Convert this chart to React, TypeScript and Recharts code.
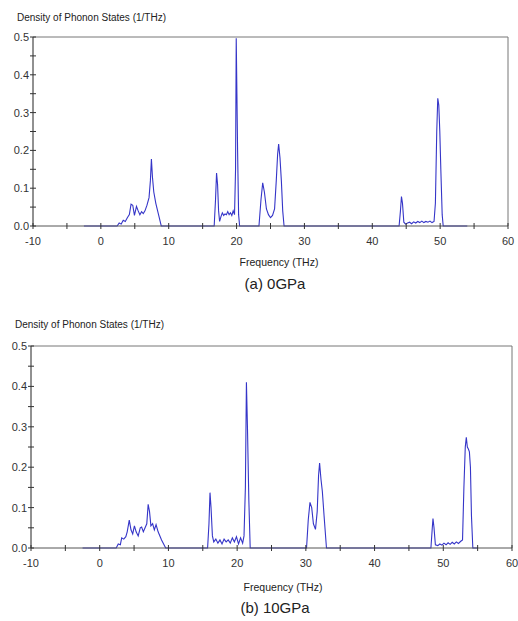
import { LineChart, Line, XAxis, YAxis, ReferenceLine } from 'recharts';

// (a) 0 GPa
const freqA = [
  -2.5, 2.4, 2.7, 3.0, 3.3, 3.6, 3.9, 4.2, 4.45, 4.7, 4.95, 5.25, 5.5, 5.75, 6.0, 6.25, 6.5, 6.8, 7.1, 7.3,
  7.45, 7.6, 7.8, 8.1, 8.5, 8.9, 16.7, 16.9, 17.05, 17.2, 17.35, 17.5, 17.7, 17.9, 18.1, 18.3, 18.5, 18.7,
  18.9, 19.1, 19.3, 19.5, 19.7, 19.85, 19.95, 20.05, 20.15, 20.3, 20.45, 23.3, 23.6, 23.85, 24.1, 24.4,
  24.7, 25.0, 25.3, 25.6, 25.85, 26.05, 26.2, 26.4, 26.6, 26.8, 27.0, 43.95, 44.15, 44.3, 44.45, 44.65,
  44.9, 45.2, 45.5, 45.8, 46.1, 46.4, 46.7, 47.0, 47.3, 47.6, 47.9, 48.2, 48.5, 48.8, 49.1, 49.3, 49.5,
  49.65, 49.8, 49.95, 50.1, 50.3, 50.45, 54,
];
const dosA = [
  0, 0, 0.008, 0.005, 0.015, 0.012, 0.022, 0.03, 0.058, 0.055, 0.028, 0.052, 0.04, 0.03, 0.038, 0.033, 0.04,
  0.055, 0.075, 0.12, 0.177, 0.13, 0.09, 0.06, 0.03, 0, 0, 0.07, 0.14, 0.11, 0.04, 0.012, 0.025, 0.035, 0.028,
  0.032, 0.03, 0.038, 0.03, 0.035, 0.028, 0.04, 0.03, 0.15, 0.497, 0.35, 0.2, 0.03, 0, 0, 0.07, 0.114, 0.09,
  0.045, 0.03, 0.022, 0.028, 0.045, 0.12, 0.19, 0.217, 0.18, 0.12, 0.04, 0, 0, 0.04, 0.078, 0.06, 0.01, 0.005,
  0.008, 0.01, 0.006, 0.011, 0.008, 0.012, 0.009, 0.013, 0.009, 0.012, 0.01, 0.013, 0.009, 0.012, 0.06, 0.25,
  0.338, 0.32, 0.25, 0.15, 0.03, 0, 0,
];

// (b) 10 GPa
const freqB = [
  -2.5, 2.4, 2.7, 3.0, 3.2, 3.5, 3.8, 4.0, 4.3, 4.55, 4.8, 5.05, 5.3, 5.6, 5.9, 6.1, 6.35, 6.6, 6.85, 7.05,
  7.25, 7.45, 7.7, 7.95, 8.2, 8.5, 9.0, 9.6, 15.7, 15.9, 16.05, 16.2, 16.4, 16.6, 16.9, 17.2, 17.5, 17.8,
  18.1, 18.4, 18.7, 19.0, 19.3, 19.6, 19.9, 20.2, 20.5, 20.8, 21.0, 21.2, 21.35, 21.5, 21.7, 21.9, 30.1,
  30.35, 30.6, 30.85, 31.1, 31.4, 31.65, 31.85, 32.0, 32.2, 32.4, 32.65, 33.0, 48.2, 48.4, 48.5, 48.65,
  48.85, 49.2, 49.5, 49.8, 50.1, 50.4, 50.7, 51.0, 51.3, 51.6, 51.9, 52.2, 52.5, 52.8, 53.0, 53.2, 53.35,
  53.5, 53.65, 53.8, 53.95, 54.1, 54.3, 55,
];
const dosB = [
  0, 0, 0.01, 0.008, 0.025, 0.022, 0.028, 0.04, 0.069, 0.045, 0.035, 0.055, 0.04, 0.03, 0.05, 0.052, 0.04,
  0.05, 0.06, 0.108, 0.09, 0.055, 0.06, 0.045, 0.058, 0.04, 0.02, 0, 0, 0.06, 0.137, 0.1, 0.03, 0.015, 0.022,
  0.012, 0.02, 0.01, 0.022, 0.015, 0.02, 0.012, 0.025, 0.015, 0.028, 0.01, 0.025, 0.012, 0.03, 0.15, 0.41,
  0.3, 0.12, 0, 0, 0.07, 0.113, 0.1, 0.06, 0.046, 0.09, 0.18, 0.21, 0.17, 0.14, 0.08, 0, 0, 0.05, 0.073, 0.05,
  0.008, 0.006, 0.01, 0.007, 0.012, 0.008, 0.013, 0.009, 0.014, 0.01, 0.015, 0.011, 0.016, 0.02, 0.15, 0.25,
  0.274, 0.25, 0.245, 0.238, 0.2, 0.08, 0, 0,
];

const xTicks = [-10, -5, 0, 5, 10, 15, 20, 25, 30, 35, 40, 45, 50, 55, 60];
const yTicks = [0, 0.05, 0.1, 0.15, 0.2, 0.25, 0.3, 0.35, 0.4, 0.45, 0.5];

const font = '"Liberation Sans", Arial, sans-serif';
const lineColor = '#3535c8';

const XTick = ({ x, y, payload, labelDy }: any) => {
  const v = payload.value;
  return (
    <g>
      <line x1={x} x2={x} y1={y - 3} y2={y + 3} stroke="#333" />
      {v % 10 === 0 && (
        <text x={x} y={y + labelDy} textAnchor="middle" fontSize={11} fill="#333" fontFamily={font}>
          {v}
        </text>
      )}
    </g>
  );
};

const YTick = ({ x, y, payload }: any) => {
  const v = payload.value;
  const major = Math.round(v * 100) % 10 === 0;
  return (
    <g>
      <line x1={x - 3} x2={x + 3} y1={y} y2={y} stroke="#333" />
      {major && (
        <text x={x - 4} y={y} dy="0.36em" textAnchor="end" fontSize={11} fill="#333" fontFamily={font}>
          {v.toFixed(1)}
        </text>
      )}
    </g>
  );
};

function DosPanel({ freq, dos, width, height, margin, yWidth, labelDy }: any) {
  const data = freq.map((f: number, i: number) => ({ f, v: dos[i] }));
  return (
    <LineChart width={width} height={height} data={data} margin={margin}>
      <XAxis
        dataKey="f"
        type="number"
        domain={[-10, 60]}
        ticks={xTicks}
        interval={0}
        tickLine={false}
        tickSize={0}
        tickMargin={0}
        height={24}
        axisLine={{ stroke: '#555' }}
        tick={<XTick labelDy={labelDy} />}
      />
      <YAxis
        type="number"
        domain={[0, 0.5]}
        ticks={yTicks}
        interval={0}
        tickLine={false}
        tickSize={0}
        tickMargin={0}
        width={yWidth}
        axisLine={{ stroke: '#222' }}
        tick={<YTick />}
      />
      <ReferenceLine y={0.5} stroke="#777" />
      <ReferenceLine x={60} stroke="#777" />
      <Line
        dataKey="v"
        type="linear"
        stroke={lineColor}
        strokeWidth={1.1}
        dot={false}
        isAnimationActive={false}
      />
    </LineChart>
  );
}

const txt = (top: number, left: number, size: number, s: string, center = false) => (
  <div
    style={{
      position: 'absolute',
      top,
      left: center ? 0 : left,
      width: center ? 518 : undefined,
      paddingLeft: center ? left : 0,
      textAlign: center ? 'center' : 'left',
      fontSize: size,
      fontFamily: font,
      color: '#222',
      lineHeight: 1,
      whiteSpace: 'nowrap',
    }}
  >
    {s}
  </div>
);

export default function App() {
  return (
    <div style={{ position: 'absolute', top: 0, left: 0, width: 518, height: 621, background: '#fff' }}>
      {txt(13, 17, 10, 'Density of Phonon States (1/THz)')}
      <div style={{ position: 'absolute', top: 0, left: 0 }}>
        <DosPanel
          freq={freqA}
          dos={dosA}
          width={518}
          height={250}
          margin={{ top: 37, right: 10, left: 0, bottom: 0 }}
          yWidth={33}
          labelDy={19}
        />
      </div>
      {txt(257, 20, 10.5, 'Frequency (THz)', true)}
      {txt(276, 16, 15, '(a) 0GPa', true)}

      {txt(320, 15, 10, 'Density of Phonon States (1/THz)')}
      <div style={{ position: 'absolute', top: 300, left: 0 }}>
        <DosPanel
          freq={freqB}
          dos={dosB}
          width={518}
          height={272}
          margin={{ top: 46, right: 6, left: 0, bottom: 0 }}
          yWidth={31}
          labelDy={19}
        />
      </div>
      {txt(582, 24, 10.5, 'Frequency (THz)', true)}
      {txt(600, 16, 15, '(b) 10GPa', true)}
    </div>
  );
}
